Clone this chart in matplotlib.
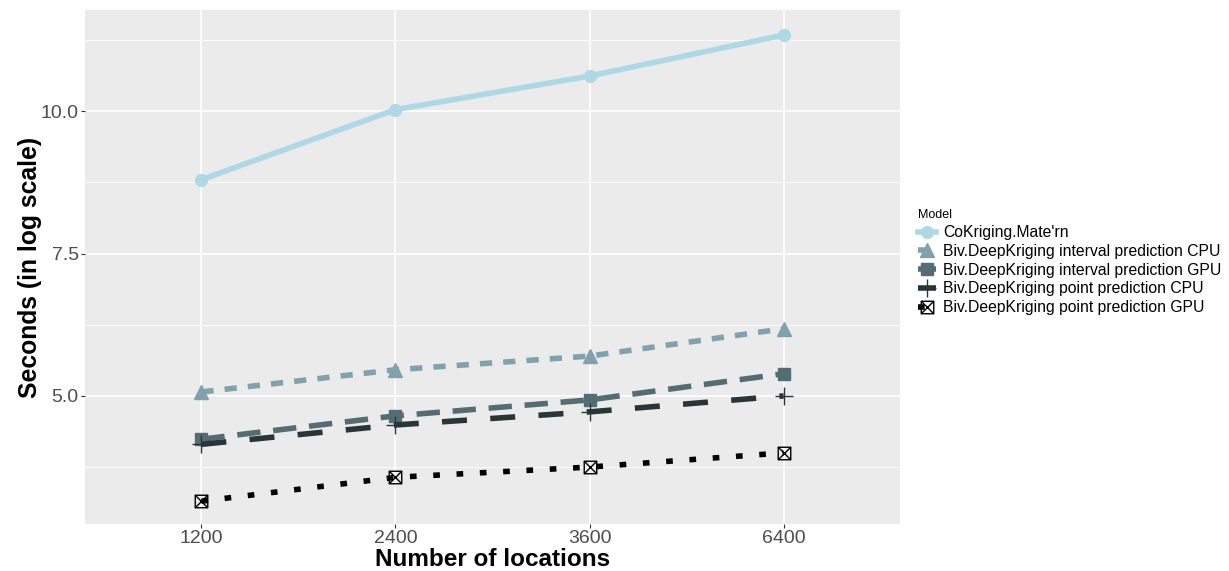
import numpy as np
import matplotlib
matplotlib.use("Agg")
import matplotlib.pyplot as plt
from matplotlib.path import Path
from matplotlib.ticker import FixedLocator

plt.rcParams["font.family"] = ["Liberation Sans", "DejaVu Sans"]

# Run times (log seconds) per number of locations
locations = ["1200", "2400", "3600", "6400"]
cokriging = [8.80, 10.03, 10.62, 11.34]
interval_cpu = [5.07, 5.46, 5.70, 6.18]
interval_gpu = [4.24, 4.65, 4.93, 5.39]
point_cpu = [4.15, 4.49, 4.72, 5.00]
point_gpu = [3.15, 3.57, 3.75, 4.00]

model_names = [
    "CoKriging.Mate'rn",
    "Biv.DeepKriging interval prediction CPU",
    "Biv.DeepKriging interval prediction GPU",
    "Biv.DeepKriging point prediction CPU",
    "Biv.DeepKriging point prediction GPU",
]

# boxed cross marker (R pch 7)
boxed_x = Path(
    [(-1, -1), (1, -1), (1, 1), (-1, 1), (-1, -1), (-1, -1), (1, 1), (-1, 1), (1, -1)],
    [Path.MOVETO, Path.LINETO, Path.LINETO, Path.LINETO, Path.CLOSEPOLY,
     Path.MOVETO, Path.LINETO, Path.MOVETO, Path.LINETO],
)

styles = [
    dict(color="#add8e6", ls="-", marker="o", ms=8.5),
    dict(color="#7fa2ae", ls=(0, (2.2, 2.0)), marker="^", ms=9.5),
    dict(color="#546d75", ls=(0, (4.2, 2.3)), marker="s", ms=9),
    dict(color="#283638", ls=(0, (4.5, 4.2)), marker="+", ms=13, mew=1.0),
    dict(color="#000000", ls=(0, (1.2, 3.0)), marker=boxed_x, ms=9, mew=1.0, mfc="none"),
]

series = [cokriging, interval_cpu, interval_gpu, point_cpu, point_gpu]

fig = plt.figure(figsize=(12.29, 5.71), dpi=100)
ax = fig.add_axes([85 / 1229, 47 / 571, 815 / 1229, 514 / 571])
ax.set_facecolor("#ebebeb")
for sp in ax.spines.values():
    sp.set_visible(False)

x = np.arange(1, len(locations) + 1)
handles = []
for vals, st, name in zip(series, styles, model_names):
    h, = ax.plot(x, vals, lw=4.0, label=name, dash_capstyle="butt", **st)
    handles.append(h)

ax.set_xlim(0.4, 4.6)
ax.set_ylim(2.75, 11.78)
ax.set_xticks(x)
ax.set_xticklabels(locations)
ax.yaxis.set_major_locator(FixedLocator([5.0, 7.5, 10.0]))
ax.set_yticklabels(["5.0", "7.5", "10.0"])
ax.yaxis.set_minor_locator(FixedLocator([3.75, 6.25, 8.75, 11.25]))
ax.tick_params(axis="both", which="major", labelsize=14, labelcolor="#4d4d4d",
               color="#333333", length=3, width=0.8, pad=1.5)
ax.tick_params(axis="y", which="minor", length=0)
ax.grid(True, which="major", color="white", lw=1.2)
ax.grid(True, which="minor", axis="y", color="white", lw=0.6)
ax.set_axisbelow(True)

ax.set_xlabel("Number of locations", fontsize=17.5, fontweight="bold", va="baseline")
ax.xaxis.set_label_coords(0.5, (524 - 566) / 514)
ax.set_ylabel("Seconds (in log scale)", fontsize=17.8, fontweight="bold", labelpad=-1)

leg = fig.legend(handles=handles, loc="upper left", bbox_to_anchor=(912 / 1229, 1 - 203 / 571),
                 title="Model", fontsize=11.3, title_fontsize=9, frameon=False,
                 handlelength=1.1, handletextpad=0.5, labelspacing=0.24,
                 alignment="left", borderaxespad=0)
for line in leg.get_lines():
    line.set_linewidth(4.0)

fig.savefig("out.png", dpi=100)
